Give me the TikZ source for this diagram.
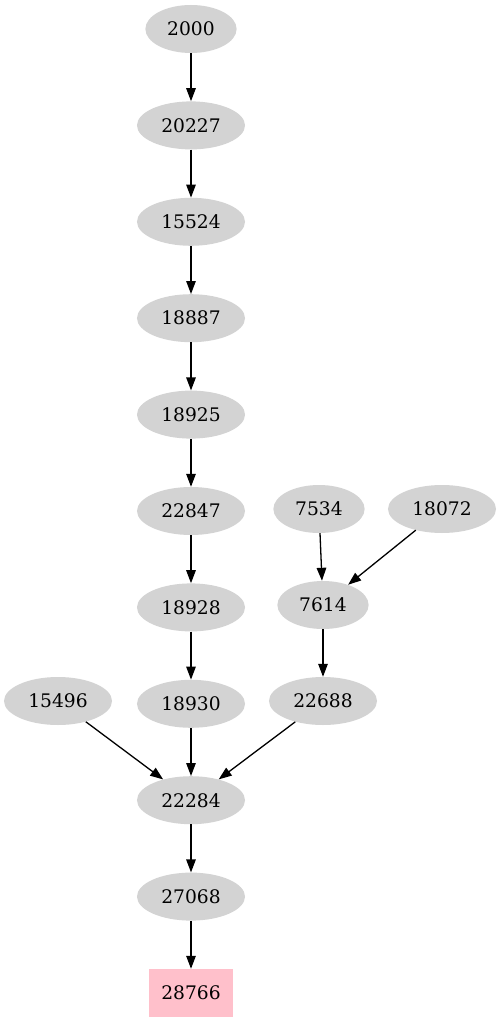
\documentclass[tikz,border=0pt]{standalone}
\usepackage{fontspec}
\setmainfont{DejaVu Serif}
\usepackage{tikz}
\usetikzlibrary{shapes.geometric, arrows.meta, positioning}
\definecolor{nodegray}{RGB}{211, 211, 211}
\definecolor{sinkpink}{RGB}{255, 192, 203}

\begin{document}
\begin{tikzpicture}[
      x=1pt, y=-1pt,
      node distance=48pt and 40pt,
      vertex/.style={ellipse, fill=nodegray, inner xsep=8.5pt, inner ysep=0pt, minimum height=48pt, font=\fontsize{18.67}{20}\selectfont},
      sink/.style={rectangle, fill=sinkpink, minimum width=84pt, minimum height=48pt, inner sep=0pt, font=\fontsize{18.67}{20}\selectfont},
      arrow/.style={-{Triangle[length=13pt, width=9.5pt]}, line width=1.3pt, draw=black}
    ]
      \useasboundingbox (0,0) rectangle (502,1019);
      % main chain
      \node[vertex] (n2000) at (191,29) {2000};
      \node[vertex, below=of n2000] (n20227) {20227};
      \node[vertex, below=of n20227] (n15524) {15524};
      \node[vertex, below=of n15524] (n18887) {18887};
      \node[vertex, below=of n18887] (n18925) {18925};
      \node[vertex, below=of n18925] (n22847) {22847};
      \node[vertex, below=of n22847] (n18928) {18928};
      \node[vertex, below=of n18928] (n18930) {18930};
      \node[vertex, below=of n18930] (n22284) {22284};
      \node[vertex, below=of n22284] (n27068) {27068};
      \node[sink, below=of n27068] (n28766) {28766};
      % side branches
      \node[vertex] (n7534) at (319,509) {7534};
      \node[vertex] (n18072) at (442,509) {18072};
      \node[vertex] (n7614) at (323,605) {7614};
      \node[vertex] (n22688) at (323,701) {22688};
      \node[vertex] (n15496) at (58,701) {15496};

      \draw[arrow] (n2000) -- (n20227);
      \draw[arrow] (n20227) -- (n15524);
      \draw[arrow] (n15524) -- (n18887);
      \draw[arrow] (n18887) -- (n18925);
      \draw[arrow] (n18925) -- (n22847);
      \draw[arrow] (n22847) -- (n18928);
      \draw[arrow] (n18928) -- (n18930);
      \draw[arrow] (n18930) -- (n22284);
      \draw[arrow] (n22284) -- (n27068);
      \draw[arrow] (n27068) -- (n28766);
      \draw[arrow] (n7534) -- (n7614);
      \draw[arrow] (n18072) -- (n7614);
      \draw[arrow] (n7614) -- (n22688);
      \draw[arrow] (n22688) -- (n22284);
      \draw[arrow] (n15496) -- (n22284);
    \end{tikzpicture}
\end{document}
